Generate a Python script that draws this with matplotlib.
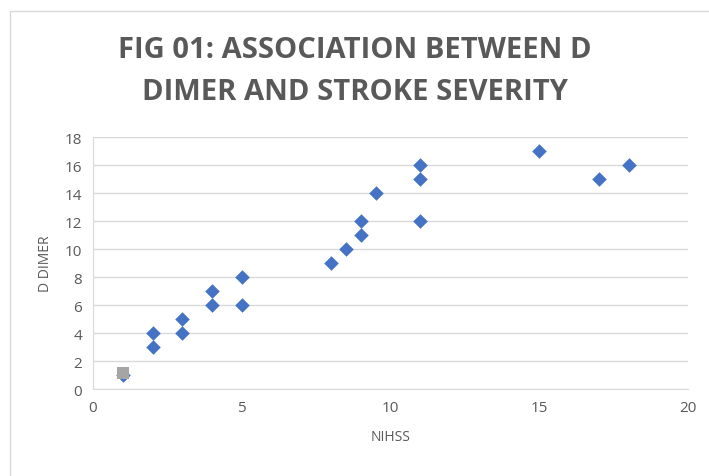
import matplotlib.pyplot as plt
from matplotlib.patches import Rectangle

# NIHSS vs D dimer
nihss = [1, 2, 2, 3, 3, 4, 4, 5, 5, 8, 8.5, 9, 9, 9.5, 11, 11, 11, 15, 17, 18]
d_dimer = [1, 3, 4, 4, 5, 6, 7, 6, 8, 9, 10, 11, 12, 14, 12, 15, 16, 17, 15, 16]

# second series (grey square)
nihss2 = [1]
d_dimer2 = [1.15]

x_ticks = [0, 5, 10, 15, 20]
y_ticks = [0, 2, 4, 6, 8, 10, 12, 14, 16, 18]

plt.rcParams['font.family'] = ['Open Sans', 'DejaVu Sans']
grey = '#595959'

fig = plt.figure(figsize=(7.09, 4.77), dpi=100)
fig.patches.append(Rectangle((10 / 709, -0.01), 1.0, 1 - 12 / 477 + 0.01,
                             transform=fig.transFigure, fill=False,
                             edgecolor='#d9d9d9', linewidth=1))

ax = fig.add_axes([93 / 709, 1 - 390 / 477, 595 / 709, 252 / 477])
ax.scatter(nihss, d_dimer, marker='D', s=55, color='#4472c4', zorder=3, linewidths=0)
ax.scatter(nihss2, d_dimer2, marker='s', s=70, color='#a5a5a5', zorder=4, linewidths=0)

ax.set_xlim(0, 20)
ax.set_ylim(0, 18)
ax.set_xticks(x_ticks)
ax.set_yticks(y_ticks)
ax.tick_params(length=0, colors=grey, labelsize=11, pad=8)
ax.grid(axis='y', color='#d9d9d9', linewidth=1)
ax.set_axisbelow(True)
for s in ['top', 'right']:
    ax.spines[s].set_visible(False)
for s in ['left', 'bottom']:
    ax.spines[s].set_color('#d9d9d9')

ax.set_xlabel('NIHSS', color=grey, fontsize=10, labelpad=10)
ax.set_ylabel('D DIMER', color=grey, fontsize=10, labelpad=8)

fig.text(0.5, 1 - 51 / 477, 'FIG 01: ASSOCIATION BETWEEN D', ha='center', va='center',
         fontsize=21, fontweight='bold', color=grey)
fig.text(0.5, 1 - 93 / 477, 'DIMER AND STROKE SEVERITY', ha='center', va='center',
         fontsize=21, fontweight='bold', color=grey)

fig.savefig('out.png', dpi=100)
